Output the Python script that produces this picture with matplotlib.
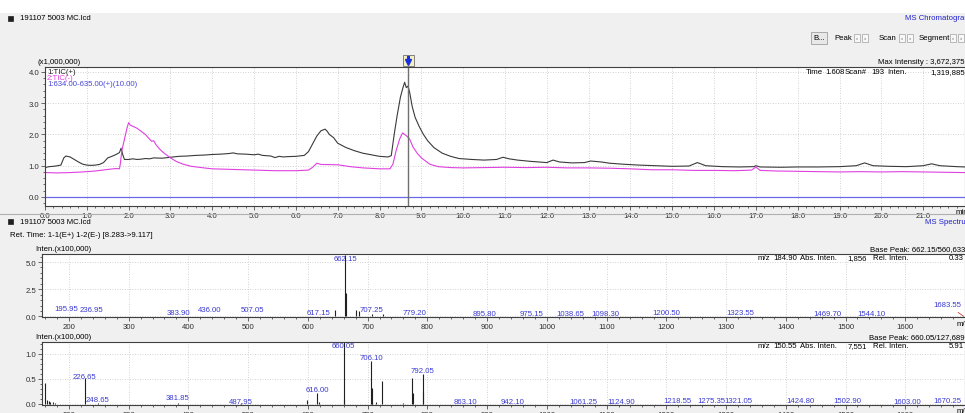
import matplotlib
matplotlib.use("Agg")
import matplotlib.pyplot as plt
from matplotlib.patches import Rectangle
from matplotlib.lines import Line2D
from matplotlib.ticker import MultipleLocator, FormatStrFormatter

plt.rcParams["font.family"] = ["Liberation Sans", "DejaVu Sans"]

# ---- chromatogram data (x1,000,000) ----
tic_pos_t = [0.0, 0.1, 0.2, 0.3, 0.38, 0.45, 0.5, 0.6, 0.7, 0.8, 0.9, 1.0, 1.1, 1.2, 1.3, 1.4,
             1.5, 1.6, 1.7, 1.78, 1.82, 1.86, 1.9, 2.0, 2.1, 2.2, 2.3, 2.4, 2.5, 2.6, 2.8, 3.0,
             3.2, 3.4, 3.6, 3.8, 4.0, 4.2, 4.4, 4.5, 4.6, 4.8, 5.0, 5.1, 5.2, 5.4, 5.5, 5.6,
             5.7, 5.8, 6.0, 6.2, 6.3, 6.4, 6.5, 6.6, 6.7, 6.75, 6.8, 6.9, 7.0, 7.2, 7.4, 7.6,
             7.8, 8.0, 8.2, 8.28, 8.35, 8.42, 8.5, 8.56, 8.6, 8.64, 8.68, 8.72, 8.78, 8.85,
             8.95, 9.05, 9.15, 9.3, 9.5, 9.7, 9.9, 10.2, 10.5, 10.8, 10.95, 11.1, 11.3, 11.6,
             12.0, 12.15, 12.3, 12.6, 12.9, 13.05, 13.3, 13.5, 13.8, 14.2, 14.6, 15.0, 15.4,
             15.6, 15.8, 16.2, 16.6, 16.95, 17.0, 17.1, 17.6, 18.0, 18.5, 19.0, 19.4, 19.6,
             19.8, 20.2, 20.6, 21.0, 21.2, 21.4, 21.8, 22.0]
tic_pos_y = [0.94, 0.97, 0.98, 1.0, 1.02, 1.25, 1.31, 1.28, 1.2, 1.12, 1.05, 1.02, 1.01, 1.02,
             1.04, 1.1, 1.25, 1.3, 1.36, 1.42, 1.56, 1.35, 1.2, 1.2, 1.22, 1.2, 1.21, 1.23,
             1.22, 1.25, 1.24, 1.27, 1.3, 1.31, 1.33, 1.34, 1.36, 1.37, 1.39, 1.41, 1.38,
             1.37, 1.35, 1.37, 1.33, 1.31, 1.26, 1.3, 1.28, 1.29, 1.3, 1.33, 1.45, 1.7, 1.95,
             2.12, 2.17, 2.1, 2.0, 1.9, 1.72, 1.58, 1.48, 1.4, 1.35, 1.3, 1.28, 1.32, 2.0,
             2.6, 3.2, 3.5, 3.67, 3.5, 3.55, 3.35, 2.9, 2.55, 2.25, 2.0, 1.8, 1.58, 1.4, 1.3,
             1.23, 1.2, 1.18, 1.2, 1.27, 1.22, 1.18, 1.14, 1.1, 1.18, 1.12, 1.09, 1.1, 1.15,
             1.12, 1.08, 1.05, 1.02, 1.0, 0.98, 0.99, 1.1, 1.0, 0.97, 0.96, 0.97, 1.0, 0.96,
             0.95, 0.96, 0.96, 0.97, 1.0, 1.09, 1.0, 0.98, 0.97, 1.0, 1.06, 1.0, 0.97, 0.96]

tic_neg_t = [0.0, 0.3, 0.6, 0.9, 1.2, 1.5, 1.7, 1.78, 1.8, 1.84, 1.9, 1.96, 2.0, 2.04, 2.1,
             2.2, 2.3, 2.4, 2.5, 2.55, 2.6, 2.65, 2.75, 2.85, 3.0, 3.15, 3.3, 3.5, 3.8, 4.0,
             4.5, 5.0, 5.5, 6.0, 6.3, 6.4, 6.5, 6.6, 7.0, 7.3, 7.6, 8.0, 8.25, 8.32, 8.4,
             8.48, 8.55, 8.6, 8.65, 8.72, 8.8, 8.9, 9.0, 9.2, 9.4, 9.7, 10.0, 10.5, 11.0,
             11.5, 12.0, 12.5, 13.0, 13.5, 14.0, 14.5, 15.0, 15.5, 16.0, 16.5, 16.9, 17.0,
             17.1, 17.5, 18.0, 18.5, 19.0, 19.5, 20.0, 20.5, 21.0, 21.5, 22.0]
tic_neg_y = [0.78, 0.77, 0.78, 0.8, 0.83, 0.88, 0.91, 0.9, 1.05, 1.5, 1.85, 2.2, 2.38, 2.3,
             2.26, 2.2, 2.1, 2.0, 1.85, 1.78, 1.8, 1.68, 1.52, 1.4, 1.25, 1.13, 1.05, 0.98,
             0.93, 0.9, 0.88, 0.86, 0.84, 0.84, 0.86, 0.95, 1.08, 1.04, 1.03, 0.97, 0.93,
             0.9, 0.9, 1.05, 1.5, 1.85, 2.05, 2.0, 1.95, 1.85, 1.6, 1.4, 1.25, 1.05, 0.97,
             0.94, 0.93, 0.94, 0.95, 0.94, 0.95, 0.93, 0.93, 0.92, 0.9, 0.87, 0.87, 0.85,
             0.85, 0.84, 0.86, 0.96, 0.85, 0.83, 0.82, 0.81, 0.8, 0.81, 0.8, 0.81, 0.8, 0.79,
             0.78]

xic_t = [0.0, 22.0]
xic_y = [0.01, 0.01]

marker_time = 8.68
time_ticks = [0.0, 1.0, 2.0, 3.0, 4.0, 5.0, 6.0, 7.0, 8.0, 9.0, 10.0, 11.0, 12.0, 13.0, 14.0,
              15.0, 16.0, 17.0, 18.0, 19.0, 20.0, 21.0]
mz_ticks = [200, 300, 400, 500, 600, 700, 800, 900, 1000, 1100, 1200, 1300, 1400, 1500, 1600]

# ---- spectrum 1 (E+), x100,000 ----
pos_mz = [195.95, 236.95, 383.90, 436.00, 507.05, 617.15, 646.0, 662.15, 663.15, 680.0,
          685.0, 707.25, 725.0, 779.20, 895.80, 975.15, 1038.65, 1098.30, 1200.50, 1323.55,
          1469.70, 1544.10, 1683.55]
pos_int = [0.05, 0.04, 0.03, 0.03, 0.03, 0.05, 0.6, 5.61, 2.2, 0.6, 0.5, 0.2, 0.2, 0.03,
           0.02, 0.02, 0.02, 0.02, 0.02, 0.02, 0.02, 0.02, 0.01]
pos_labels = ["195.95", "236.95", "383.90", "436.00", "507.05", "617.15", "662.15", "707.25",
              "779.20", "895.80", "975.15", "1038.65", "1098.30", "1200.50", "1323.55",
              "1469.70", "1544.10"]
pos_label_y = [0.74, 0.65, 0.37, 0.65, 0.65, 0.37, 5.3, 0.65, 0.37, 0.28, 0.28, 0.28, 0.28,
               0.37, 0.37, 0.28, 0.28]
# last label sits left of its peak with a leader line
edge_label = "1683.55"
edge_peak = 1698.0

# ---- spectrum 2 (E-), x100,000 ----
neg_mz = [160.0, 163.0, 166.0, 169.0, 173.0, 177.0, 226.65, 248.65, 381.85, 487.95, 599.0,
          616.00, 618.0, 660.05, 661.05, 706.10, 707.10, 708.0, 714.0, 724.9, 759.0, 774.9,
          775.9, 792.05, 793.05, 863.10, 942.10, 1061.25, 1124.90, 1218.55, 1275.35,
          1321.05, 1424.80, 1502.90, 1603.00, 1670.25]
neg_int = [0.42, 0.08, 0.06, 0.05, 0.04, 0.03, 0.52, 0.02, 0.03, 0.015, 0.08, 0.22, 0.05,
           1.277, 0.1, 0.86, 0.33, 0.05, 0.05, 0.46, 0.02, 0.52, 0.22, 0.6, 0.25, 0.01, 0.01,
           0.01, 0.01, 0.01, 0.01, 0.01, 0.01, 0.01, 0.01, 0.01]
neg_labels = ["226.65", "248.65", "381.85", "487.95", "616.00", "660.05", "706.10", "792.05",
              "863.10", "942.10", "1061.25", "1124.90", "1218.55", "1275.35", "1321.05",
              "1424.80", "1502.90", "1603.00", "1670.25"]
neg_label_y = [0.55, 0.08, 0.12, 0.05, 0.28, 1.16, 0.92, 0.67, 0.05, 0.05, 0.05, 0.05, 0.06,
               0.06, 0.06, 0.06, 0.06, 0.05, 0.06]

W, H = 965, 414
GREY_BG = "#f0f0f0"
LBL_BLUE = "#3b3bd0"
FS = 5.6


def fx(px):
    return px / W


def fy(py):
    return 1 - py / H


def add_axes(left, top, right, bottom):
    return fig.add_axes([fx(left), fy(bottom), fx(right - left), (bottom - top) / H])


def style_axes(ax):
    ax.set_facecolor("white")
    for s in ax.spines.values():
        s.set_color("#404040")
        s.set_linewidth(0.8)
    ax.tick_params(which="both", direction="out", labelsize=FS, colors="#303030", width=0.5, pad=1.0)
    ax.tick_params(which="major", length=3)
    ax.tick_params(which="minor", length=1.5)
    ax.grid(which="major", ls=(0, (1, 2)), color="#c4c4c4", lw=0.6)
    ax.set_axisbelow(True)


def ftext(px, py, s, **kw):
    kw.setdefault("fontsize", FS)
    kw.setdefault("va", "center")
    fig.text(fx(px), fy(py), s, **kw)


def icon(px, py):
    fig.patches.append(Rectangle((fx(px - 2.5), fy(py + 2.5)), 5 / W, 5 / H, transform=fig.transFigure,
                                 facecolor="#202020", edgecolor="#202020", lw=0.5))


fig = plt.figure(figsize=(W / 100, H / 100), dpi=100, facecolor=GREY_BG)
fig.patches.append(Rectangle((0, fy(14)), 1, 14 / H, transform=fig.transFigure,
                             facecolor="white", edgecolor="none"))

# ---------------- chromatogram ----------------
ax1 = add_axes(45, 68, 965, 207)
style_axes(ax1)
ax1.plot(tic_pos_t, tic_pos_y, color="#3a3a3a", lw=0.8)
ax1.plot(tic_neg_t, tic_neg_y, color="#e040e0", lw=0.8)
ax1.plot(xic_t, xic_y, color="#6a6ae8", lw=0.9)
ax1.axvline(marker_time, color="#707070", lw=1.0)
ax1.set_xlim(0, 22.0)
ax1.set_ylim(-0.29, 4.16)
ax1.set_xticks(time_ticks)
ax1.xaxis.set_minor_locator(MultipleLocator(0.2))
ax1.yaxis.set_major_locator(MultipleLocator(1.0))
ax1.yaxis.set_minor_locator(MultipleLocator(0.2))
ax1.xaxis.set_major_formatter(FormatStrFormatter("%.1f"))
ax1.yaxis.set_major_formatter(FormatStrFormatter("%.1f"))
ftext(47, 72, "1:TIC(+)", color="#202020")
ftext(47, 78.5, "2:TIC(-)", color="#e040e0")
ftext(47, 85, "1:634.00-635.00(+)(10.00)", color="#4848d8")

# marker icon above the chromatogram
fig.patches.append(Rectangle((fx(402.5), fy(67)), 11 / W, 11 / H, transform=fig.transFigure,
                             facecolor="#f6f0c0", edgecolor="#707070", lw=0.6))
fig.lines.append(Line2D([fx(408), fx(408)], [fy(58), fy(62)], transform=fig.transFigure,
                        color="#1830e0", lw=2.2))
fig.lines.append(Line2D([fx(408)], [fy(63)], transform=fig.transFigure, marker="v",
                        markersize=5, color="#1830e0", lw=0))

icon(10, 19)
ftext(20, 19, "191107 5003 MC.lcd")
ftext(905, 19, "MS Chromatogram", color="#2020d0")

# button row
fig.text(fx(819), fy(39), "B...", fontsize=FS, ha="center", va="center",
         bbox=dict(boxstyle="square,pad=0.3", fc="#e8e8e8", ec="#909090", lw=0.5))
for lbl, x0 in [("Peak", 834), ("Scan", 879), ("Segment", 919)]:
    ftext(x0, 39, lbl)
for bx, ch in [(857, "\u2039"), (865, "\u203a"), (902, "\u2039"), (910, "\u203a"),
               (953, "\u2039"), (961, "\u203a")]:
    fig.text(fx(bx), fy(39), ch, fontsize=4.5, ha="center", va="center", color="#505050",
             bbox=dict(boxstyle="square,pad=0.3", fc="#f8f8f8", ec="#a0a0a0", lw=0.5))

ftext(38, 63, "(x1,000,000)")
ftext(965, 63, "Max Intensity : 3,672,375", ha="right")
ftext(806, 73, "Time")
ftext(825, 73, "1.608")
ftext(845, 73, "Scan#")
ftext(871, 73, "193")
ftext(887, 73, "Inten.")
ftext(965, 73, "1,319,885", ha="right")
ftext(956, 212, "min")

# separator
fig.lines.append(Line2D([0, 1], [fy(215), fy(215)], transform=fig.transFigure, color="#b0b0b0", lw=0.8))

# ---------------- spectrum 1 ----------------
icon(10, 222)
ftext(20, 222, "191107 5003 MC.lcd")
ftext(925, 222, "MS Spectrum", color="#2020d0")
ftext(10, 236, "Ret. Time: 1-1(E+) 1-2(E-) [8.283->9.117]")

ax2 = add_axes(42, 255, 965, 318)
style_axes(ax2)
ax2.vlines(pos_mz, 0, pos_int, color="#202020", lw=0.8)
ax2.set_xlim(155, 1700)
ax2.set_ylim(-0.05, 5.74)
ax2.set_xticks(mz_ticks)
ax2.xaxis.set_minor_locator(MultipleLocator(20))
ax2.yaxis.set_major_locator(MultipleLocator(2.5))
ax2.yaxis.set_minor_locator(MultipleLocator(0.5))
ax2.yaxis.set_major_formatter(FormatStrFormatter("%.1f"))
for s, yv in zip(pos_labels, pos_label_y):
    ax2.text(float(s), yv, s, fontsize=FS, color=LBL_BLUE, ha="center", va="center")
ax2.annotate(edge_label, xy=(edge_peak, 0.0), xytext=(1670, 1.1), fontsize=FS, color=LBL_BLUE,
             ha="center", va="center",
             arrowprops=dict(arrowstyle="-", color="#d04040", lw=0.6, shrinkA=2, shrinkB=0))
ftext(35, 250, "Inten.(x100,000)")
ftext(965, 250, "Base Peak: 662.15/560,633", ha="right")
ftext(758, 259, "m/z")
ftext(773, 259, "184.90")
ftext(800, 259, "Abs. Inten.")
ftext(867, 259, "1,856", ha="right")
ftext(873, 259, "Rel. Inten.")
ftext(964, 259, "0.33", ha="right")
ftext(957, 324, "m/z")

# ---------------- spectrum 2 ----------------
ax3 = add_axes(42, 343, 965, 406)
style_axes(ax3)
ax3.vlines(neg_mz, 0, neg_int, color="#202020", lw=0.8)
ax3.set_xlim(155, 1700)
ax3.set_ylim(-0.02, 1.24)
ax3.set_xticks(mz_ticks)
ax3.xaxis.set_minor_locator(MultipleLocator(20))
ax3.yaxis.set_major_locator(MultipleLocator(0.5))
ax3.yaxis.set_minor_locator(MultipleLocator(0.1))
ax3.yaxis.set_major_formatter(FormatStrFormatter("%.1f"))
for s, yv in zip(neg_labels, neg_label_y):
    ax3.text(float(s), yv, s, fontsize=FS, color=LBL_BLUE, ha="center", va="center")
ftext(35, 338, "Inten.(x100,000)")
ftext(965, 338, "Base Peak: 660.05/127,689", ha="right")
ftext(758, 347, "m/z")
ftext(773, 347, "150.55")
ftext(800, 347, "Abs. Inten.")
ftext(867, 347, "7,551", ha="right")
ftext(873, 347, "Rel. Inten.")
ftext(964, 347, "5.91", ha="right")
ftext(957, 412, "m/z")

fig.savefig("out.png", dpi=100, facecolor=GREY_BG)
